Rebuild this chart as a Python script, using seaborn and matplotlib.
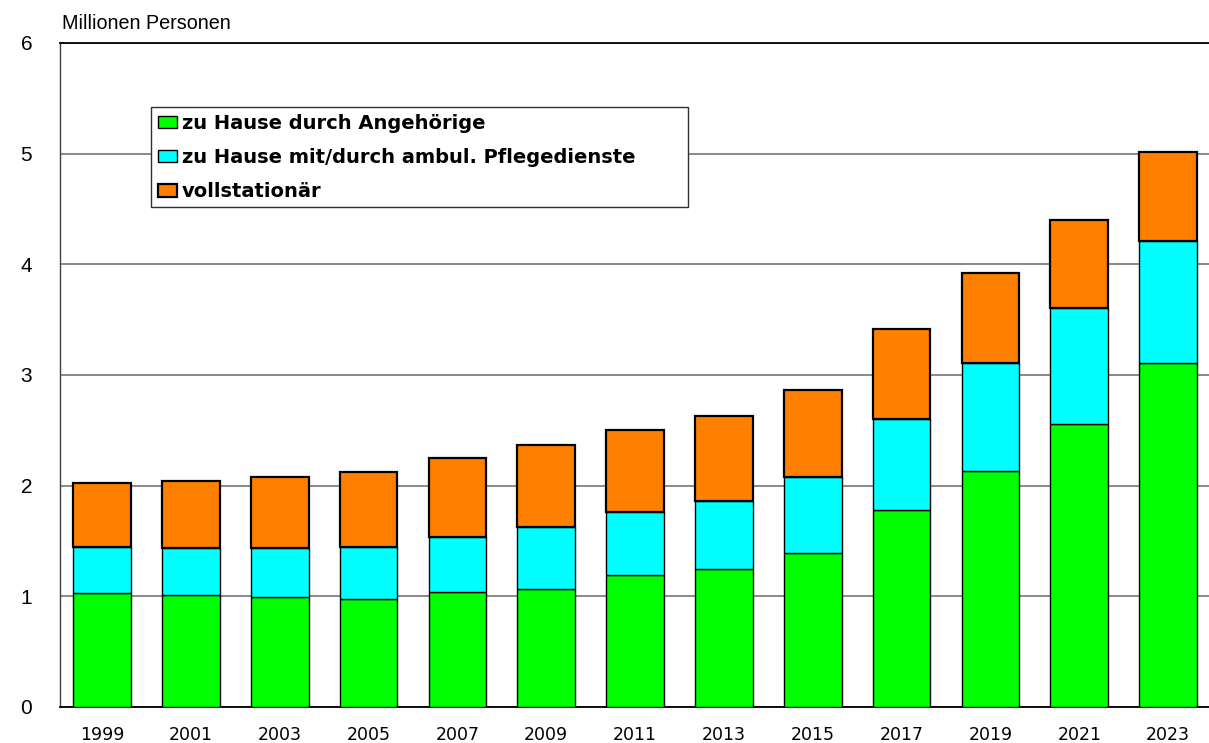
import matplotlib
matplotlib.use("Agg")
import matplotlib.pyplot as plt
from matplotlib.patches import Rectangle
import seaborn as sns
import pandas as pd
import numpy as np

years = ["1999", "2001", "2003", "2005", "2007", "2009", "2011",
         "2013", "2015", "2017", "2019", "2021", "2023"]
angehoerige = [1.03, 1.01, 0.99, 0.98, 1.04, 1.07, 1.19, 1.25, 1.39, 1.78, 2.13, 2.56, 3.11]
ambulant = [0.415, 0.43, 0.45, 0.47, 0.50, 0.555, 0.572, 0.614, 0.69, 0.82, 0.977, 1.044, 1.104]
stationaer = [0.575, 0.60, 0.638, 0.675, 0.708, 0.745, 0.744, 0.763, 0.787, 0.82, 0.817, 0.796, 0.80]
series_names = ["zu Hause durch Angehörige",
                "zu Hause mit/durch ambul. Pflegedienste",
                "vollstationär"]
y_ticks = [0, 1, 2, 3, 4, 5, 6]
y_label = "Millionen Personen"

colors = ["#00FF00", "#00FFFF", "#FF8000"]

sns.set_theme(style="white")
plt.rcParams['font.family'] = ['Liberation Sans', 'DejaVu Sans']
plt.rcParams['text.color'] = 'black'
plt.rcParams['xtick.color'] = 'black'
plt.rcParams['ytick.color'] = 'black'

df = pd.DataFrame({"year": years, "a": angehoerige, "b": ambulant, "c": stationaer})

fig = plt.figure(figsize=(12.09, 7.43), dpi=100)
ax = fig.add_axes([60/1209, 36/743, 1 - 60/1209, 664/743])

bottom = np.zeros(len(years))
for col, name, colr in zip(["a", "b", "c"], series_names, colors):
    lw = 1.6 if col == "c" else 1.0
    sns.barplot(data=df, x="year", y=col, ax=ax, color=colr, bottom=bottom,
                width=0.65, edgecolor="black", linewidth=lw, label=name,
                saturation=1, zorder=3)
    bottom = bottom + df[col].values

ax.set_ylim(0, 6)
ax.set_xlim(-0.473, 12.46)
ax.set_yticks(y_ticks)
ax.set_yticklabels([str(t) for t in y_ticks], fontsize=15, fontfamily="Liberation Sans")
ax.tick_params(axis="y", length=0, pad=20, labelcolor="black")
ax.tick_params(axis="x", length=0, pad=13.5, labelcolor="black")
for lab in ax.get_xticklabels():
    lab.set_fontfamily("DejaVu Sans")
    lab.set_fontsize(12.5)
ax.set_xlabel("")
ax.set_ylabel("")
ax.yaxis.grid(True, color="#808080", linewidth=1.3, zorder=0)
ax.set_axisbelow(True)

ax.spines["right"].set_visible(False)
ax.spines["top"].set_color("black")
ax.spines["top"].set_linewidth(1.3)
ax.spines["bottom"].set_color("black")
ax.spines["bottom"].set_linewidth(1.3)
ax.spines["left"].set_color("#404040")
ax.spines["left"].set_linewidth(1.0)

# legend box (frame drawn as a fixed-size rectangle like the original)
box = Rectangle((151/1209, 1 - 207/743), (688-151)/1209, 100/743,
                transform=fig.transFigure, facecolor="white", edgecolor="#303030",
                linewidth=1.0, zorder=4)
ax.add_patch(box)
box.set_clip_on(False)

leg = ax.legend(loc="upper left", bbox_to_anchor=(151/1209, 1 - 107/743),
                bbox_transform=fig.transFigure,
                borderaxespad=0, frameon=False,
                prop={"family": "DejaVu Sans", "weight": "bold", "size": 14},
                handlelength=0.98, handleheight=0.62, handletextpad=0.26,
                labelspacing=0.78, borderpad=0.35)
leg.set_zorder(5)

fig.text(62/1209, 1 - 29/743, y_label, fontsize=14.2, ha="left", va="baseline",
         color="black")

fig.savefig("out.png", dpi=100)
